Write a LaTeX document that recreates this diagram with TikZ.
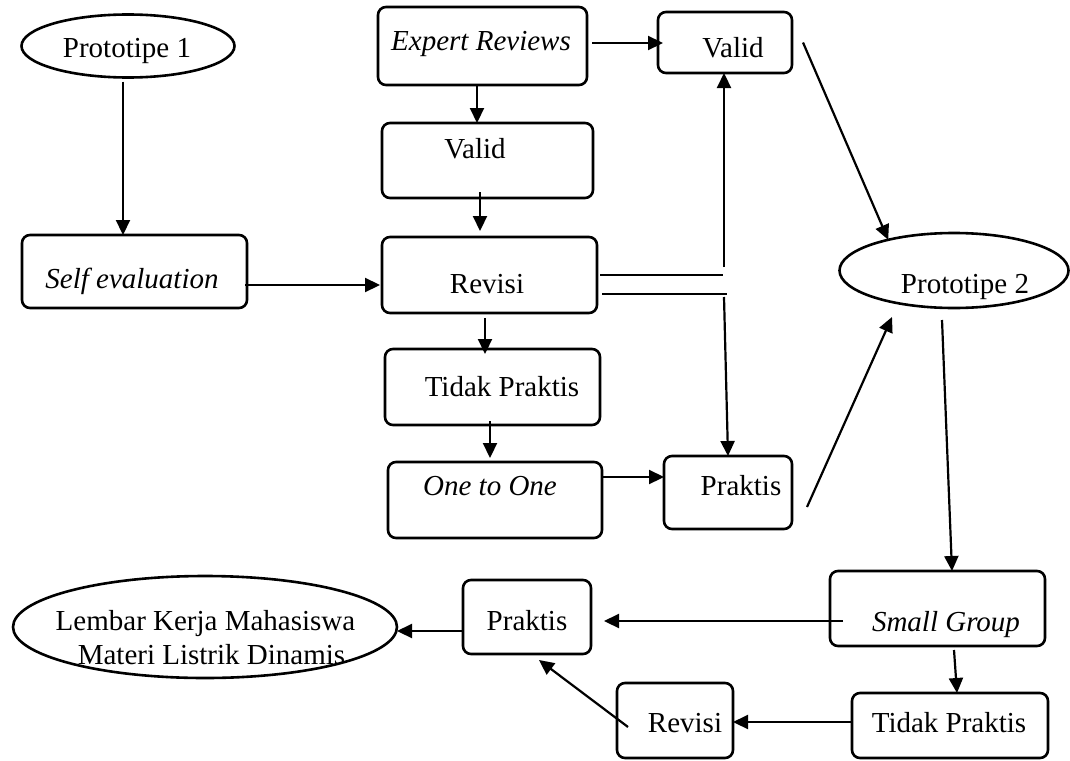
\documentclass[tikz,border=0pt]{standalone}
\usepackage{fontspec}
\setmainfont{Liberation Serif}
\usetikzlibrary{arrows.meta,shapes.geometric}
\begin{document}
\begin{tikzpicture}[x=1pt,y=-1pt,
  font=\fontsize{29}{34}\selectfont,
  box/.style={draw,line width=2.6pt,rounded corners=8pt,inner sep=0pt,outer sep=0pt},
  oval/.style={draw,ellipse,line width=2.6pt,inner sep=0pt,outer sep=0pt},
  txt/.style={anchor=base,inner sep=0pt,outer sep=0pt},
  arr/.style={line width=2.2pt,-{Triangle[length=15pt,width=14pt]}},
  thinline/.style={line width=1.4pt}]
\useasboundingbox (0,0) rectangle (1070,760);

% shapes
\node[oval,minimum width=213pt,minimum height=63pt] (p1) at (128,46) {};
\node[box,minimum width=225pt,minimum height=73pt] (se) at (134.5,271.5) {};
\node[box,minimum width=209pt,minimum height=78pt] (er) at (482.5,46) {};
\node[box,minimum width=134pt,minimum height=61pt] (vt) at (725,42.5) {};
\node[box,minimum width=211pt,minimum height=75pt] (v2) at (487.5,160.5) {};
\node[box,minimum width=215pt,minimum height=76pt] (rv) at (489.5,275) {};
\node[oval,minimum width=229pt,minimum height=75pt] (p2) at (954,270.5) {};
\node[box,minimum width=215pt,minimum height=76pt] (tp) at (492.5,387) {};
\node[box,minimum width=214pt,minimum height=76pt] (oo) at (495,500) {};
\node[box,minimum width=128pt,minimum height=73pt] (pm) at (728,492.5) {};
\node[box,minimum width=215pt,minimum height=75pt] (sg) at (937.5,608.5) {};
\node[box,minimum width=128pt,minimum height=74pt] (pb) at (527,617) {};
\node[oval,minimum width=384pt,minimum height=102pt] (lk) at (205,627) {};
\node[box,minimum width=196pt,minimum height=65pt] (tb) at (950,725.5) {};
\node[box,minimum width=116pt,minimum height=75pt] (rb) at (675,720.5) {};

% texts
\node[txt] (tp1) at (127,58) {Prototipe 1};
\node[txt] (tse) at (132,288) {\itshape Self evaluation};
\node[txt] (ter) at (481,51) {\itshape Expert Reviews};
\node[txt] (tvt) at (733,57) {Valid};
\node[txt] (tv2) at (475,158) {Valid};
\node[txt] (trv) at (487,293) {Revisi};
\node[txt] (tp2) at (965,293) {Prototipe 2};
\node[txt] (ttp) at (502,396) {Tidak Praktis};
\node[txt] (too) at (490,495) {\itshape One to One};
\node[txt] (tpm) at (741,495) {Praktis};
\node[txt] (tsg) at (946,631) {\itshape Small Group};
\node[txt] (tpb) at (527,630) {Praktis};
\node[txt] (ttb) at (949,732) {Tidak Praktis};
\node[txt] (trb) at (685,732) {Revisi};
\node[txt] (tl1) at (205.5,630) {Lembar Kerja Mahasiswa};
\node[txt] (tl2) at (211.5,664) {Materi Listrik Dinamis};

% free ends of the split connector
\coordinate (j1) at (723,275);
\coordinate (j2) at (727,294);
\coordinate (u1) at (724,267);
\coordinate (d1) at (724,297);

% connectors
\draw[arr] ([shift={(-5,4)}]p1.south) -- ([shift={(-11.5,0)}]se.north);
\draw[arr] ([shift={(-2,13.5)}]se.east) -- ([shift={(-2,13.5)}]se.east -| rv.west);
\draw[arr] ([shift={(5,-3)}]er.east) -- ([shift={(5,-3)}]er.east -| vt.west);
\draw[arr] ([shift={(-5.5,0)}]er.south) -- ([shift={(-5.5,0)}]er.south |- v2.north);
\draw[arr] ([shift={(-7.5,-6)}]v2.south) -- ([shift={(-7.5,-6)}]v2.south |- rv.north);
\draw[arr] ([shift={(-4.5,5)}]rv.south) -- ([shift={(-4.5,5)}]rv.south |- tp.north);
\draw[arr] ([shift={(-2.5,-4)}]tp.south) -- ([shift={(-2.5,-4)}]tp.south |- oo.north);
\draw[arr] ([shift={(0,-23)}]oo.east) -- ([shift={(0,-23)}]oo.east -| pm.west);
\draw[thinline] ([shift={(3,0)}]rv.east) -- (j1);
\draw[thinline] ([shift={(5,19)}]rv.east) -- (j2);
\draw[arr] (u1) -- ([shift={(-1,0)}]vt.south);
\draw[arr] (d1) -- (pm.north);
\draw[arr] ([shift={(11,0)}]vt.east) -- (p2.155);
\draw[arr] ([shift={(15,14.5)}]pm.east) -- ([shift={(-62,46.5)}]p2.center);
\draw[arr] ([shift={(-12,49.5)}]p2.center) -- ([shift={(14.5,0)}]sg.north);
\draw[arr] ([shift={(13,12.5)}]sg.west) -- ([shift={(13,12.5)}]sg.west -| pb.east);
\draw[arr] ([shift={(16.5,4)}]sg.south) -- ([shift={(7,0)}]tb.north);
\draw[arr] ([shift={(0,-3.5)}]tb.west) -- ([shift={(0,-3.5)}]tb.west -| rb.east);
\draw[arr] ([shift={(11,6.5)}]rb.west) -- ([shift={(12,6)}]pb.south);
\draw[arr] ([shift={(0,14)}]pb.west) -- ([shift={(0,14)}]pb.west -| lk.east);
\end{tikzpicture}
\end{document}
